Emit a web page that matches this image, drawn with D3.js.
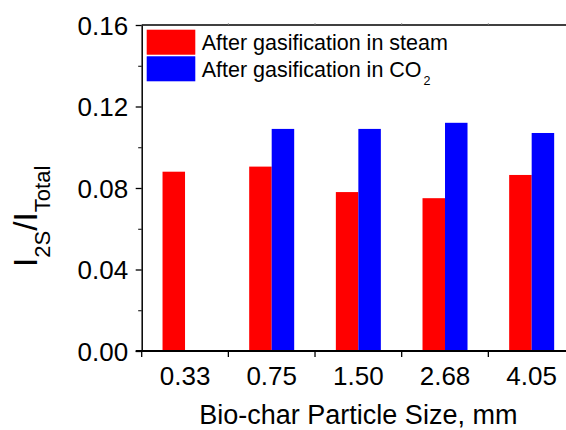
<!DOCTYPE html>
<html>
<head>
<meta charset="utf-8">
<script src="https://cdn.jsdelivr.net/npm/d3@7"></script>
<style>
  body { margin: 0; background: #fff; }
  svg { display: block; font-family: Arial, "Liberation Sans", sans-serif; }
</style>
</head>
<body>
<svg id="chart" width="566" height="430"></svg>
<script>
// ---------- data ----------
const categories = ["0.33", "0.75", "1.50", "2.68", "4.05"];
const steamValues = [0.088, 0.0905, 0.078, 0.075, 0.0864];
const co2Values = [null, 0.109, 0.109, 0.112, 0.107];
const yTicks = [0, 0.04, 0.08, 0.12, 0.16];
const yMinorTicks = [0.02, 0.06, 0.10, 0.14];

const series = [
  { key: "steam", color: "#ff0000", values: steamValues },
  { key: "co2", color: "#0000ff", values: co2Values },
];

// ---------- layout ----------
const plot = { left: 141.7, right: 575, top: 25, bottom: 351 };
const svg = d3.select("#chart");

const x = d3.scaleBand()
  .domain(categories)
  .range([plot.left, plot.right])
  .padding(0);

const groupWidth = 45; // red + blue bar per category
const xSub = d3.scaleBand()
  .domain(series.map((s) => s.key))
  .range([x.bandwidth() / 2 - groupWidth / 2, x.bandwidth() / 2 + groupWidth / 2]);

const y = d3.scaleLinear().domain([0, 0.16]).range([plot.bottom, plot.top]);

// ---------- bars ----------
const rows = categories.map((c, i) => ({
  cat: c,
  bars: series
    .map((s) => ({ key: s.key, color: s.color, value: s.values[i] }))
    .filter((b) => b.value != null),
}));

svg.append("g")
  .selectAll("g")
  .data(rows)
  .join("g")
  .attr("transform", (d) => `translate(${x(d.cat)},0)`)
  .selectAll("rect")
  .data((d) => d.bars)
  .join("rect")
  .attr("x", (d) => xSub(d.key))
  .attr("width", xSub.bandwidth())
  .attr("y", (d) => y(d.value))
  .attr("height", (d) => y(0) - y(d.value))
  .attr("fill", (d) => d.color);

// ---------- axes ----------
const yAxis = svg.append("g")
  .attr("transform", `translate(${plot.left},0)`)
  .call(d3.axisLeft(y).tickValues(yTicks).tickFormat(d3.format(".2f"))
    .tickSize(6).tickSizeOuter(0).tickPadding(7.5));
yAxis.select(".domain").attr("stroke-width", 1.5);
yAxis.selectAll(".tick line").attr("stroke-width", 1.3);
yAxis.selectAll(".tick text").attr("font-size", 26).attr("dy", "0.36em").attr("fill", "#000");

svg.append("g")
  .attr("transform", `translate(${plot.left},0)`)
  .call(d3.axisLeft(y).tickValues(yMinorTicks).tickFormat("").tickSize(3.5).tickSizeOuter(0))
  .call((g) => g.select(".domain").remove());

// bottom axis line + ticks at category boundaries
const bounds = categories.map((c) => x(c)).concat([plot.right]);
svg.append("line")
  .attr("x1", plot.left - 6).attr("x2", plot.right)
  .attr("y1", plot.bottom).attr("y2", plot.bottom)
  .attr("stroke", "#000").attr("stroke-width", 2);
svg.append("g")
  .selectAll("line")
  .data(bounds)
  .join("line")
  .attr("x1", (d) => d).attr("x2", (d) => d)
  .attr("y1", plot.bottom).attr("y2", plot.bottom + 6)
  .attr("stroke", "#000").attr("stroke-width", 1.3);

const xAxis = svg.append("g")
  .attr("transform", `translate(0,${plot.bottom})`)
  .call(d3.axisBottom(x).tickSize(0).tickPadding(15.5));
xAxis.select(".domain").remove();
xAxis.selectAll(".tick text").attr("font-size", 26).attr("fill", "#000");

// top frame line with tiny ticks
svg.append("line")
  .attr("x1", plot.left).attr("x2", plot.right)
  .attr("y1", plot.top).attr("y2", plot.top)
  .attr("stroke", "#000").attr("stroke-width", 1.3);
svg.append("g")
  .selectAll("line")
  .data(bounds.slice(1))
  .join("line")
  .attr("x1", (d) => d).attr("x2", (d) => d)
  .attr("y1", plot.top).attr("y2", plot.top - 2)
  .attr("stroke", "#888").attr("stroke-width", 0.8);

// ---------- titles ----------
svg.append("text")
  .attr("x", (plot.left + plot.right) / 2)
  .attr("y", 424)
  .attr("text-anchor", "middle")
  .attr("font-size", 27)
  .text("Bio-char Particle Size, mm");

const yTitle = svg.append("text")
  .attr("transform", "translate(36.7,267) rotate(-90)")
  .attr("font-size", 33.5);
yTitle.append("tspan").text("I");
yTitle.append("tspan").attr("font-size", 22).attr("dy", 13).text("2S");
yTitle.append("tspan").attr("dy", -13).text("/I");
yTitle.append("tspan").attr("font-size", 22).attr("dy", 13).text("Total");

// ---------- legend ----------
const legendItems = [
  { color: "#ff0000", label: "After gasification in steam", sub: null },
  { color: "#0000ff", label: "After gasification in CO", sub: "2" },
];
const legend = svg.append("g");
legendItems.forEach((item, i) => {
  const base = 50 + i * 26.7;
  legend.append("rect")
    .attr("x", 147).attr("y", base - 20)
    .attr("width", 48).attr("height", 24.3)
    .attr("fill", item.color)
    .attr("stroke", d3.color(item.color).brighter(1.2)).attr("stroke-width", 0.6);
  const t = legend.append("text")
    .attr("x", 201.7).attr("y", base)
    .attr("font-size", 21.5)
    .text(item.label);
  if (item.sub) {
    t.append("tspan").attr("font-size", 12.5).attr("dx", 2).attr("dy", 8.3).text(item.sub);
  }
});
</script>
</body>
</html>
